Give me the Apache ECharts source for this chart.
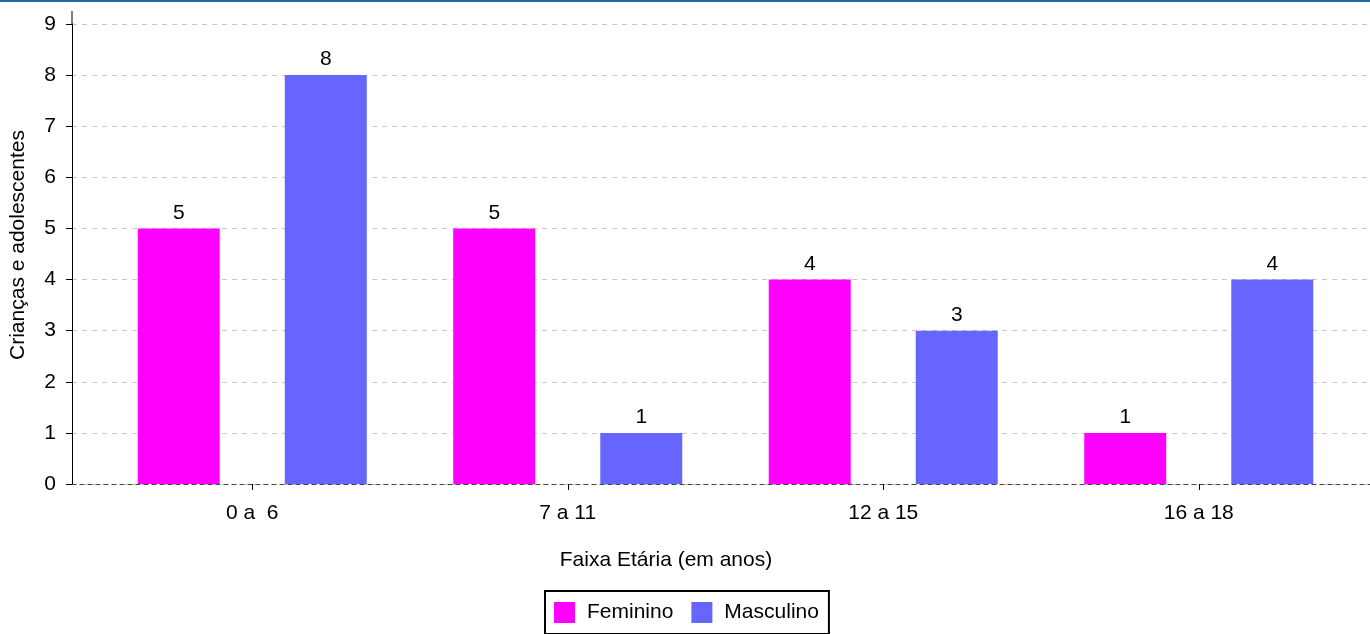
<!DOCTYPE html>
<html><head><meta charset="utf-8">
<script src="https://cdn.jsdelivr.net/npm/echarts@6/dist/echarts.min.js"></script>
<style>html,body{margin:0;padding:0;background:#fff}#c{width:1370px;height:634px}</style>
</head><body><div id="c"></div>
<script>
const categories = ['0 a  6', '7 a 11', '12 a 15', '16 a 18'];
const feminino = [5, 5, 4, 1];
const masculino = [8, 1, 3, 4];
const seriesNames = ['Feminino', 'Masculino'];
const yTicks = [0, 1, 2, 3, 4, 5, 6, 7, 8, 9];
const xTitle = 'Faixa Etária (em anos)';
const yTitle = 'Crianças e adolescentes';

const FONT = 'Liberation Sans, Arial, sans-serif';
const FS = 21;
const chart = echarts.init(document.getElementById('c'));
const yMin = yTicks[0], yMax = yTicks[yTicks.length - 1];
chart.setOption({
  animation: false,
  textStyle: { fontFamily: FONT, color: '#000' },
  grid: [
    { left: 72, right: 0, top: 24, bottom: 150 },
    { left: 94.5, width: 1262, top: 24, bottom: 150 }
  ],
  xAxis: [
    { type: 'value', gridIndex: 0, min: 0, max: 1, axisLabel: { show: false }, axisTick: { show: false },
      splitLine: { show: false },
      axisLine: { show: true, onZero: false, lineStyle: { color: '#444', type: [4, 4], width: 1 } } },
    { type: 'category', gridIndex: 1, data: categories,
      axisLine: { show: false },
      axisTick: { show: true, alignWithLabel: true, length: 6, lineStyle: { color: '#000' } },
      axisLabel: { fontSize: FS, color: '#000', margin: 19, fontFamily: FONT } }
  ],
  yAxis: [
    { type: 'value', gridIndex: 0, min: yMin, max: yMax, interval: 1,
      axisLine: { show: true, lineStyle: { color: '#000' } },
      axisTick: { show: true, length: 6, lineStyle: { color: '#000' } },
      axisLabel: { fontSize: FS, color: '#000', margin: 16, fontFamily: FONT },
      splitLine: { show: true, lineStyle: { color: '#c8c8c8', type: [5, 5] } } },
    { type: 'value', gridIndex: 1, min: yMin, max: yMax, interval: 1, show: false }
  ],
  legend: {
    left: 545, top: 591, orient: 'horizontal',
    data: seriesNames, icon: 'rect', itemWidth: 21, itemHeight: 21, itemGap: 18,
    borderColor: '#000', borderWidth: 2, padding: [11, 10, 11, 9],
    textStyle: { fontSize: FS, color: '#000', fontFamily: FONT, padding: [0, 0, 0, 7] }
  },
  graphic: [
    { type: 'rect', shape: { x: 0, y: 0, width: 1370, height: 2 }, style: { fill: '#1f6aa5' } },
    { type: 'line', shape: { x1: 72, y1: 11, x2: 72, y2: 24 }, style: { stroke: '#000', lineWidth: 1 } },
    { type: 'text', x: 666, y: 560, style: { text: xTitle, align: 'center', verticalAlign: 'middle', font: FS + 'px ' + FONT, fill: '#000' } },
    { type: 'text', rotation: Math.PI / 2, x: 18, y: 245, style: { text: yTitle, align: 'center', verticalAlign: 'middle', font: FS + 'px ' + FONT, fill: '#000' } }
  ],
  series: [
    { name: seriesNames[0], type: 'bar', xAxisIndex: 1, yAxisIndex: 1, data: feminino,
      barWidth: 82, barGap: '79.3%', itemStyle: { color: '#ff00ff' },
      label: { show: true, position: 'top', distance: 5, fontSize: FS, color: '#000', fontFamily: FONT } },
    { name: seriesNames[1], type: 'bar', xAxisIndex: 1, yAxisIndex: 1, data: masculino,
      barWidth: 82, barGap: '79.3%', itemStyle: { color: '#6666ff' },
      label: { show: true, position: 'top', distance: 5, fontSize: FS, color: '#000', fontFamily: FONT } }
  ]
});
</script></body></html>
